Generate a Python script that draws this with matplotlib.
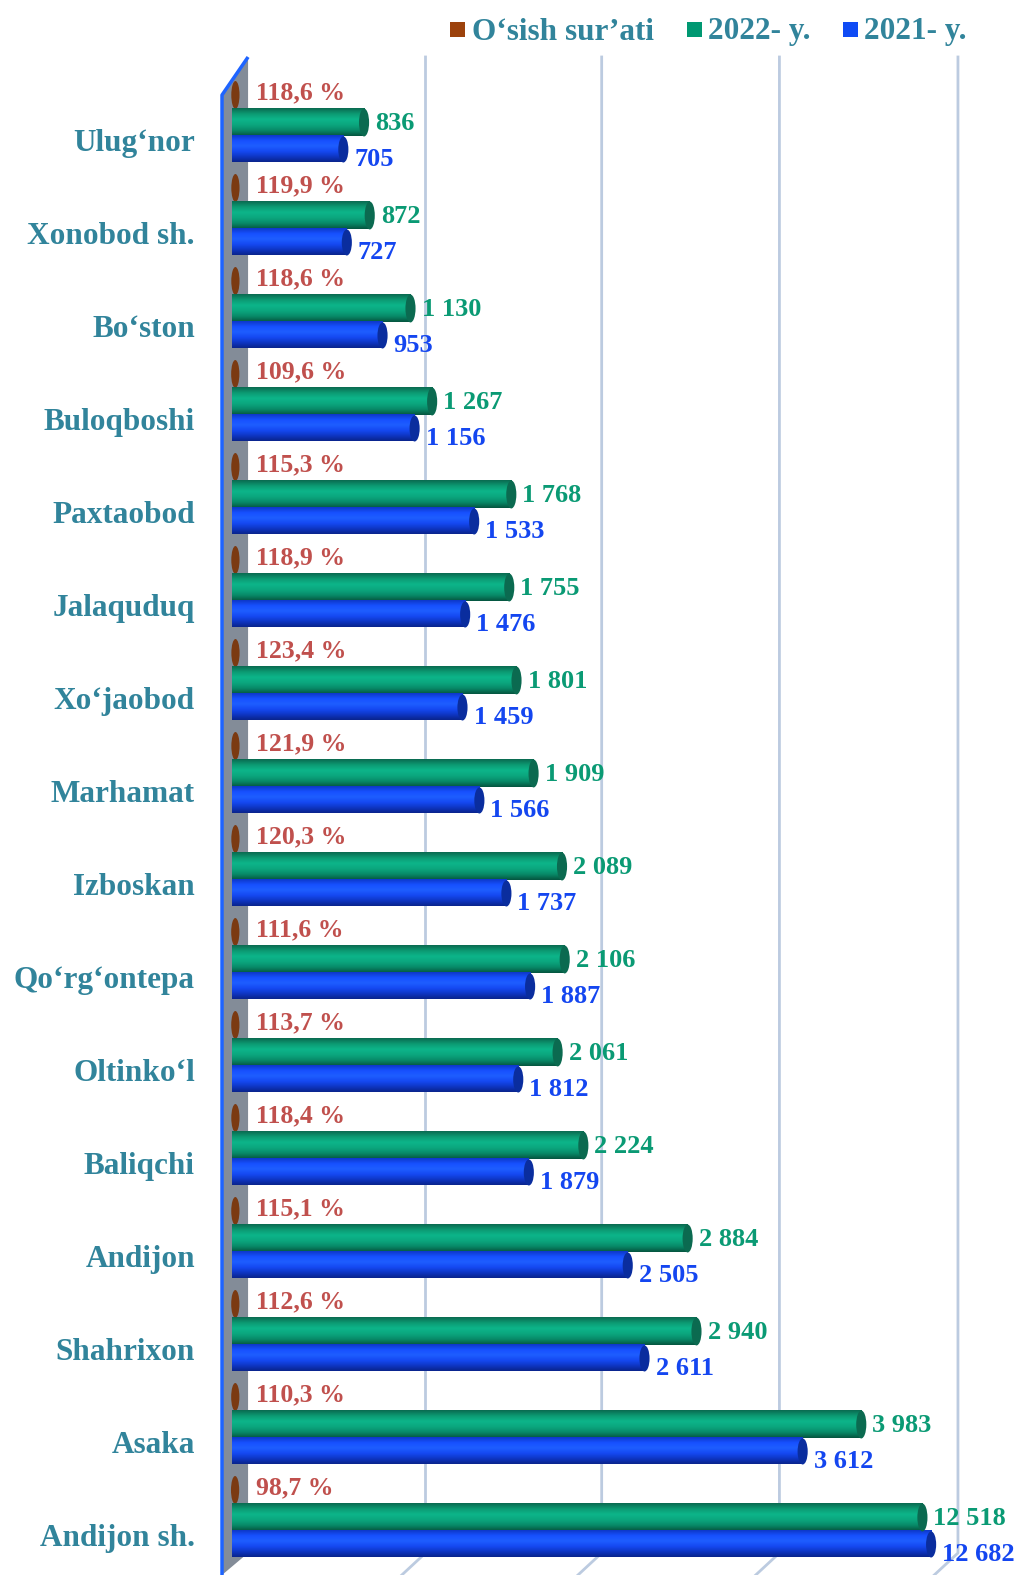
"""Horizontal 'cylinder' bars: 2021 vs 2022 by district, plus growth rate."""

import matplotlib
matplotlib.use("Agg")
import matplotlib.pyplot as plt
import numpy as np
from matplotlib.colors import LinearSegmentedColormap
from matplotlib.patches import Ellipse, Polygon, Rectangle

# ---- data (top to bottom) ----
districts = ["Ulug‘nor", "Xonobod sh.", "Bo‘ston", "Buloqboshi", "Paxtaobod",
             "Jalaquduq", "Xo‘jaobod", "Marhamat", "Izboskan", "Qo‘rg‘ontepa",
             "Oltinko‘l", "Baliqchi", "Andijon", "Shahrixon", "Asaka", "Andijon sh."]
y2022 = [836, 872, 1130, 1267, 1768, 1755, 1801, 1909, 2089, 2106,
         2061, 2224, 2884, 2940, 3983, 12518]
y2021 = [705, 727, 953, 1156, 1533, 1476, 1459, 1566, 1737, 1887,
         1812, 1879, 2505, 2611, 3612, 12682]
growth = [118.6, 119.9, 118.6, 109.6, 115.3, 118.9, 123.4, 121.9, 120.3, 111.6,
          113.7, 118.4, 115.1, 112.6, 110.3, 98.7]
legend_labels = ["O‘sish sur’ati", "2022- y.", "2021- y."]

TEAL = "#31849B"
C_GROWTH = "#C0504D"
C_GREEN_TXT = "#0A9A74"
C_BLUE_TXT = "#1446F0"
FONT = "Liberation Serif"

W, H = 1018, 1575
X_MAX = 4630          # axis end; Andijon sh. bars run off it (cut like the original)
CUT_GREEN, CUT_BLUE = 4370, 4425


def fmt(v):
    return f"{v:,}".replace(",", " ")


def ypx(px):
    # pixel row -> y data (row 0 = first group, 93 px per group)
    return (px - 122.5) / 93.0


def cylinder(ax, y, length, h, cmap, cap_color):
    ax.imshow(np.linspace(0, 1, 64).reshape(-1, 1), cmap=cmap, aspect="auto",
              interpolation="bicubic", extent=(0, length, y + h / 2, y - h / 2),
              zorder=3)
    ax.add_patch(Ellipse((length, y), 64, h, facecolor=cap_color,
                         edgecolor="none", zorder=4))


def main():
    fig = plt.figure(figsize=(W / 100, H / 100), dpi=100)
    left_px, top_px = 222, 57
    ax = fig.add_axes([left_px / W, 0, (X_MAX + 63) * 0.158 / W, 1 - top_px / H])
    ax.set_xlim(-63, X_MAX)
    ax.set_ylim(ypx(H), ypx(top_px))
    ax.axis("off")

    green_cmap = LinearSegmentedColormap.from_list(
        "g", ["#0A6A50", "#0C9A73", "#0DB58A", "#0BA67E", "#088A68", "#05553F"])
    blue_cmap = LinearSegmentedColormap.from_list(
        "b", ["#0D38C8", "#1750FF", "#1E5EFF", "#1549F2", "#0E36C4", "#0A248C"])

    # back wall on the left (3D look)
    ax.add_patch(Polygon([(-63, ypx(95)), (102, ypx(57)), (102, ypx(1553)),
                          (-63, ypx(1575))], closed=True, facecolor="#838C98",
                         edgecolor="none", zorder=1, clip_on=False))
    ax.plot([-63, -63, 102], [ypx(1575), ypx(95), ypx(57)], color="#1E64FF",
            lw=2.5, zorder=2, clip_on=False, solid_capstyle="butt")

    # gridlines, with the slanted floor part at the bottom
    for gx in [1225, 2340, 3465, 4595]:
        ax.plot([gx, gx, gx - 150], [ypx(57), ypx(1553), ypx(1575)],
                color="#BCCBE0", lw=2, zorder=0.5, clip_on=False)

    pos = np.arange(len(districts))
    for i, name in enumerate(districts):
        y = pos[i]
        g_len = min(y2022[i], CUT_GREEN)
        b_len = min(y2021[i], CUT_BLUE)

        # growth rate: only the tiny cap shows at the base
        ax.add_patch(Ellipse((growth[i] * 0.1 + 10, y - 0.296), 52, 0.30,
                             facecolor="#7B3A12", edgecolor="none", zorder=3))
        ax.text(152, y - 0.32, f"{growth[i]:.1f} %".replace(".", ","),
                color=C_GROWTH, fontsize=18.5, fontweight="bold", family=FONT,
                va="center", ha="left", zorder=5)

        cylinder(ax, y, g_len, 0.30, green_cmap, "#0B6A50")
        cylinder(ax, y + 0.29, b_len, 0.28, blue_cmap, "#0A2D9E")

        ax.text(g_len + 70, y + 0.01, fmt(y2022[i]), color=C_GREEN_TXT, fontsize=19,
                fontweight="bold", family=FONT, va="center", ha="left",
                zorder=5, clip_on=False)
        ax.text(b_len + 70, y + 0.40, fmt(y2021[i]), color=C_BLUE_TXT, fontsize=19,
                fontweight="bold", family=FONT, va="center", ha="left",
                zorder=5, clip_on=False)

        ax.text(-234, y + 0.23, name, color=TEAL, fontsize=22.5, fontweight="bold",
                family=FONT, va="center", ha="right", clip_on=False)

    # legend, placed by hand along the top
    for (sq_x, txt_x), col, lab in zip([(450, 472), (687, 708), (843, 864)],
                                       ["#9C420C", "#009872", "#0F4BF5"],
                                       legend_labels):
        fig.patches.append(Rectangle((sq_x / W, 1 - 37 / H), 15 / W, 15 / H,
                                     transform=fig.transFigure, facecolor=col,
                                     edgecolor="none"))
        fig.text(txt_x / W, 1 - 32 / H, lab, color=TEAL, fontsize=22.5,
                 fontweight="bold", family=FONT, va="center", ha="left")

    fig.savefig("out.png", dpi=100)
    plt.close(fig)


if __name__ == "__main__":
    main()
